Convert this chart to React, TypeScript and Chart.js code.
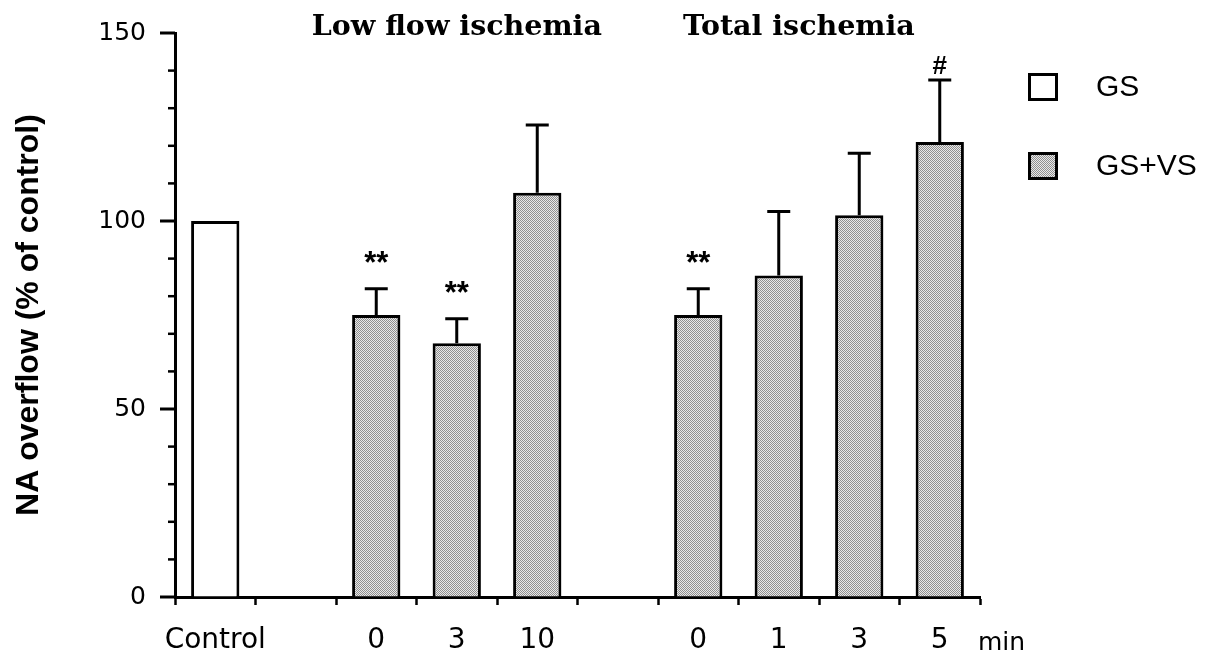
import React, { useEffect, useRef } from 'react';
import { Chart, registerables } from 'chart.js';

Chart.register(...registerables);

// Categories along the time axis (blank slots separate the groups)
const categories = ['Control', '', '0', '3', '10', '', '0', '1', '3', '5'];
// GS: control stimulation only
const gsValues = [100, null, null, null, null, null, null, null, null, null];
// GS+VS: values and SEM after low flow and total ischemia
const gsvsValues = [null, null, 75, 67.5, 107.5, null, 75, 85.5, 101.5, 121];
const gsvsErrors = [null, null, 7, 6.5, 18, null, 7, 17, 16.5, 16.5];
const significance = ['', '', '**', '**', '', '', '**', '', '', '#'];
const groupTitles = ['Low flow ischemia', 'Total ischemia'];
const seriesNames = ['GS', 'GS+VS'];
const yAxisTitle = 'NA overflow (% of control)';
const unitLabel = 'min';
const yMin = 0;
const yMax = 150;
const yMinorStep = 10;
const yMajorStep = 50;

const SANS = '"Liberation Sans", Arial, Helvetica, sans-serif';
const WIDE = '"DejaVu Sans", Verdana, sans-serif';
const SERIF = '"DejaVu Serif", "Liberation Serif", serif';

function makeDither(): CanvasPattern | string {
  const c = document.createElement('canvas');
  c.width = 2;
  c.height = 2;
  const g = c.getContext('2d');
  if (!g) return '#bdbdbd';
  g.fillStyle = '#e8e8e8';
  g.fillRect(0, 0, 2, 2);
  g.fillStyle = '#8f8f8f';
  g.fillRect(0, 0, 1, 1);
  g.fillRect(1, 1, 1, 1);
  return g.createPattern(c, 'repeat') || '#bdbdbd';
}

export default function App() {
  const canvasRef = useRef<HTMLCanvasElement | null>(null);

  useEffect(() => {
    const canvas = canvasRef.current;
    if (!canvas) return;
    const dither = makeDither();

    const overlay = {
      id: 'overlay',
      afterDatasetsDraw(chart: any) {
        const ctx = chart.ctx;
        const ys = chart.scales.y;
        const meta = chart.getDatasetMeta(1);
        ctx.save();
        ctx.strokeStyle = '#000';
        ctx.fillStyle = '#000';
        ctx.lineWidth = 3;
        gsvsValues.forEach((v, i) => {
          if (v == null) return;
          const bar = meta.data[i];
          const err = gsvsErrors[i] || 0;
          const top = ys.getPixelForValue(v + err);
          ctx.beginPath();
          ctx.moveTo(bar.x, bar.y);
          ctx.lineTo(bar.x, top);
          ctx.moveTo(bar.x - 11.5, top);
          ctx.lineTo(bar.x + 11.5, top);
          ctx.stroke();
          const mark = significance[i];
          if (mark === '**') {
            ctx.font = `bold 31px ${SANS}`;
            ctx.textAlign = 'center';
            ctx.textBaseline = 'alphabetic';
            ctx.fillText(mark, bar.x, top - 34 + 18);
          } else if (mark === '#') {
            ctx.font = `bold 26px ${SANS}`;
            ctx.textAlign = 'center';
            ctx.textBaseline = 'middle';
            ctx.fillText(mark, bar.x, top - 13);
          }
        });
        ctx.restore();
      },
      afterDraw(chart: any) {
        const ctx = chart.ctx;
        const xs = chart.scales.x;
        const ys = chart.scales.y;
        const area = chart.chartArea;
        ctx.save();
        ctx.strokeStyle = '#000';
        // y tick marks: long at majors, short at minors
        for (let v = yMin; v <= yMax; v += yMinorStep) {
          const py = ys.getPixelForValue(v);
          const major = v % yMajorStep === 0;
          ctx.lineWidth = major ? 3 : 2.5;
          ctx.beginPath();
          ctx.moveTo(area.left, py);
          ctx.lineTo(area.left - (major ? 15 : 7), py);
          ctx.stroke();
        }
        // group titles
        ctx.fillStyle = '#000';
        ctx.font = `bold 28.5px ${SERIF}`;
        ctx.textAlign = 'center';
        ctx.textBaseline = 'middle';
        ctx.fillText(groupTitles[0], xs.getPixelForValue(3), 28);
        ctx.fillText(groupTitles[1], xs.getPixelForValue(7.25), 28);
        // unit label at the end of the axis
        ctx.font = `25px ${WIDE}`;
        ctx.textAlign = 'left';
        ctx.textBaseline = 'alphabetic';
        ctx.fillText(unitLabel, area.right - 2, 650);
        // legend
        const boxX = 1029.5;
        const boxes = [74.5, 153.5];
        boxes.forEach((by, k) => {
          ctx.fillStyle = k === 0 ? '#fff' : dither;
          ctx.fillRect(boxX, by, 27, 25);
          ctx.lineWidth = 3;
          ctx.strokeRect(boxX, by, 27, 25);
          ctx.fillStyle = '#000';
          ctx.font = `30px ${SANS}`;
          ctx.textAlign = 'left';
          ctx.textBaseline = 'middle';
          ctx.fillText(seriesNames[k], 1096, by + 13);
        });
        ctx.restore();
      },
    };

    const chart = new Chart(canvas, {
      type: 'bar',
      data: {
        labels: categories,
        datasets: [
          {
            label: seriesNames[0],
            data: gsValues,
            backgroundColor: '#ffffff',
            borderColor: '#000',
            borderWidth: 3,
          },
          {
            label: seriesNames[1],
            data: gsvsValues,
            backgroundColor: dither as any,
            borderColor: '#000',
            borderWidth: 3,
          },
        ],
      },
      options: {
        responsive: false,
        animation: false,
        events: [],
        layout: { padding: { top: 33, right: 233, left: 0, bottom: 0 } },
        datasets: {
          bar: { grouped: false, barPercentage: 0.6, categoryPercentage: 1 },
        },
        plugins: {
          legend: { display: false },
          tooltip: { enabled: false },
        },
        scales: {
          x: {
            type: 'category',
            offset: true,
            grid: {
              offset: true,
              drawOnChartArea: false,
              drawTicks: true,
              tickLength: 8,
              tickWidth: 2.5,
              tickColor: '#000',
            },
            border: { display: true, color: '#000', width: 3 },
            ticks: {
              autoSkip: false,
              maxRotation: 0,
              color: '#000',
              padding: 19,
              font: { family: WIDE, size: 28 },
            },
            afterFit: (scale: any) => {
              scale.height = 60;
            },
          },
          y: {
            min: yMin,
            max: yMax,
            grid: {
              drawOnChartArea: false,
              drawTicks: true,
              tickLength: 15,
              tickColor: 'rgba(0,0,0,0)',
            },
            border: { display: true, color: '#000', width: 3 },
            ticks: {
              stepSize: yMinorStep,
              autoSkip: false,
              color: '#000',
              padding: 14,
              font: { family: WIDE, size: 25 },
              callback: (v: any) => (Number(v) % yMajorStep === 0 ? String(v) : ''),
            },
            title: {
              display: true,
              text: yAxisTitle,
              color: '#000',
              font: { family: SANS, size: 32, weight: 'bold' },
              padding: { top: 10, bottom: 0 },
            },
            afterFit: (scale: any) => {
              scale.width = 175;
            },
          },
        },
      },
      plugins: [overlay],
    });

    return () => {
      chart.destroy();
    };
  }, []);

  return (
    <div style={{ position: 'absolute', left: 0, top: 0, width: 1213, height: 657, background: '#fff' }}>
      <canvas ref={canvasRef} width={1213} height={657} />
    </div>
  );
}
